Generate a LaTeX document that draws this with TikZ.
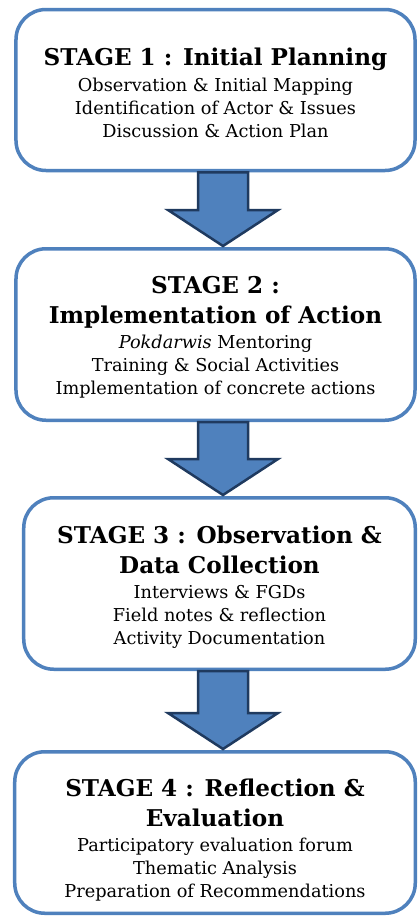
\documentclass[tikz,border=0pt]{standalone}
\usepackage{fontspec}
\setmainfont{DejaVu Serif}
\usetikzlibrary{positioning,calc}
\definecolor{stageblue}{HTML}{4F81BD}
\definecolor{arrowink}{HTML}{1F3A5F}
% optional argument: strut height, pushes the text block down a little
\newcommand{\stagetitle}[2][0pt]{{\fontsize{23.2}{27}\selectfont\bfseries\rule{0pt}{#1}#2}}
% block arrow from the bottom of one stage to the top of the next
\newcommand{\stagearrow}[2]{%
  \draw[blockarrow] ($(#1.south -| axis)+(-25,0)$) -- ($(#1.south -| axis)+(25,0)$)
    -- ($(#2.north -| axis)+(25,-37)$) -- ($(#2.north -| axis)+(55,-37)$)
    -- ($(#2.north -| axis)+(0,-1)$) -- ($(#2.north -| axis)+(-55,-37)$)
    -- ($(#2.north -| axis)+(-25,-37)$) -- cycle;}

\begin{document}
\begin{tikzpicture}[x=1bp, y=-1bp,
  stage/.style={draw=stageblue, line width=3.5bp, rounded corners=30bp, fill=white,
                minimum width=399bp, align=center, inner sep=0pt,
                font=\fontsize{17.8}{23}\selectfont},
  blockarrow/.style={fill=stageblue, draw=arrowink, line width=2.5bp, line join=miter},
]
\useasboundingbox[fill=white] (0,0) rectangle (418,920);
\coordinate (axis) at (223,0);
% -- the four stages
\node[stage, minimum height=161bp] (stageone) at (215.5,90)
  {\stagetitle[22.6bp]{STAGE 1 : Initial Planning}\\[3bp]
   Observation \& Initial Mapping\\
   Identification of Actor \& Issues\\
   Discussion \& Action Plan};
\node[stage, minimum height=171.5bp] (stagetwo) at (215.5,334.5)
  {\stagetitle[22.9bp]{STAGE 2 :}\\[7bp]
   \stagetitle{Implementation of Action}\\[2bp]
   \textit{Pokdarwis} Mentoring\\
   Training \& Social Activities\\
   Implementation of concrete actions};
\node[stage, minimum height=171.5bp, minimum width=391.5bp] (stagethree) at (219.5,583.5)
  {\stagetitle[24.6bp]{STAGE 3 : Observation \&}\\[7bp]
   \stagetitle{Data Collection}\\[2bp]
   Interviews \& FGDs\\
   Field notes \& reflection\\
   Activity Documentation};
\node[stage, minimum height=161.5bp, minimum width=400.5bp] (stagefour) at (215,832.5)
  {\stagetitle[32.6bp]{STAGE 4 : Reflection \&}\\[7bp]
   \stagetitle{Evaluation}\\[2bp]
   Participatory evaluation forum\\
   Thematic Analysis\\
   Preparation of Recommendations};
% -- arrows between stages
\stagearrow{stageone}{stagetwo}
\stagearrow{stagetwo}{stagethree}
\stagearrow{stagethree}{stagefour}
\end{tikzpicture}
\end{document}
